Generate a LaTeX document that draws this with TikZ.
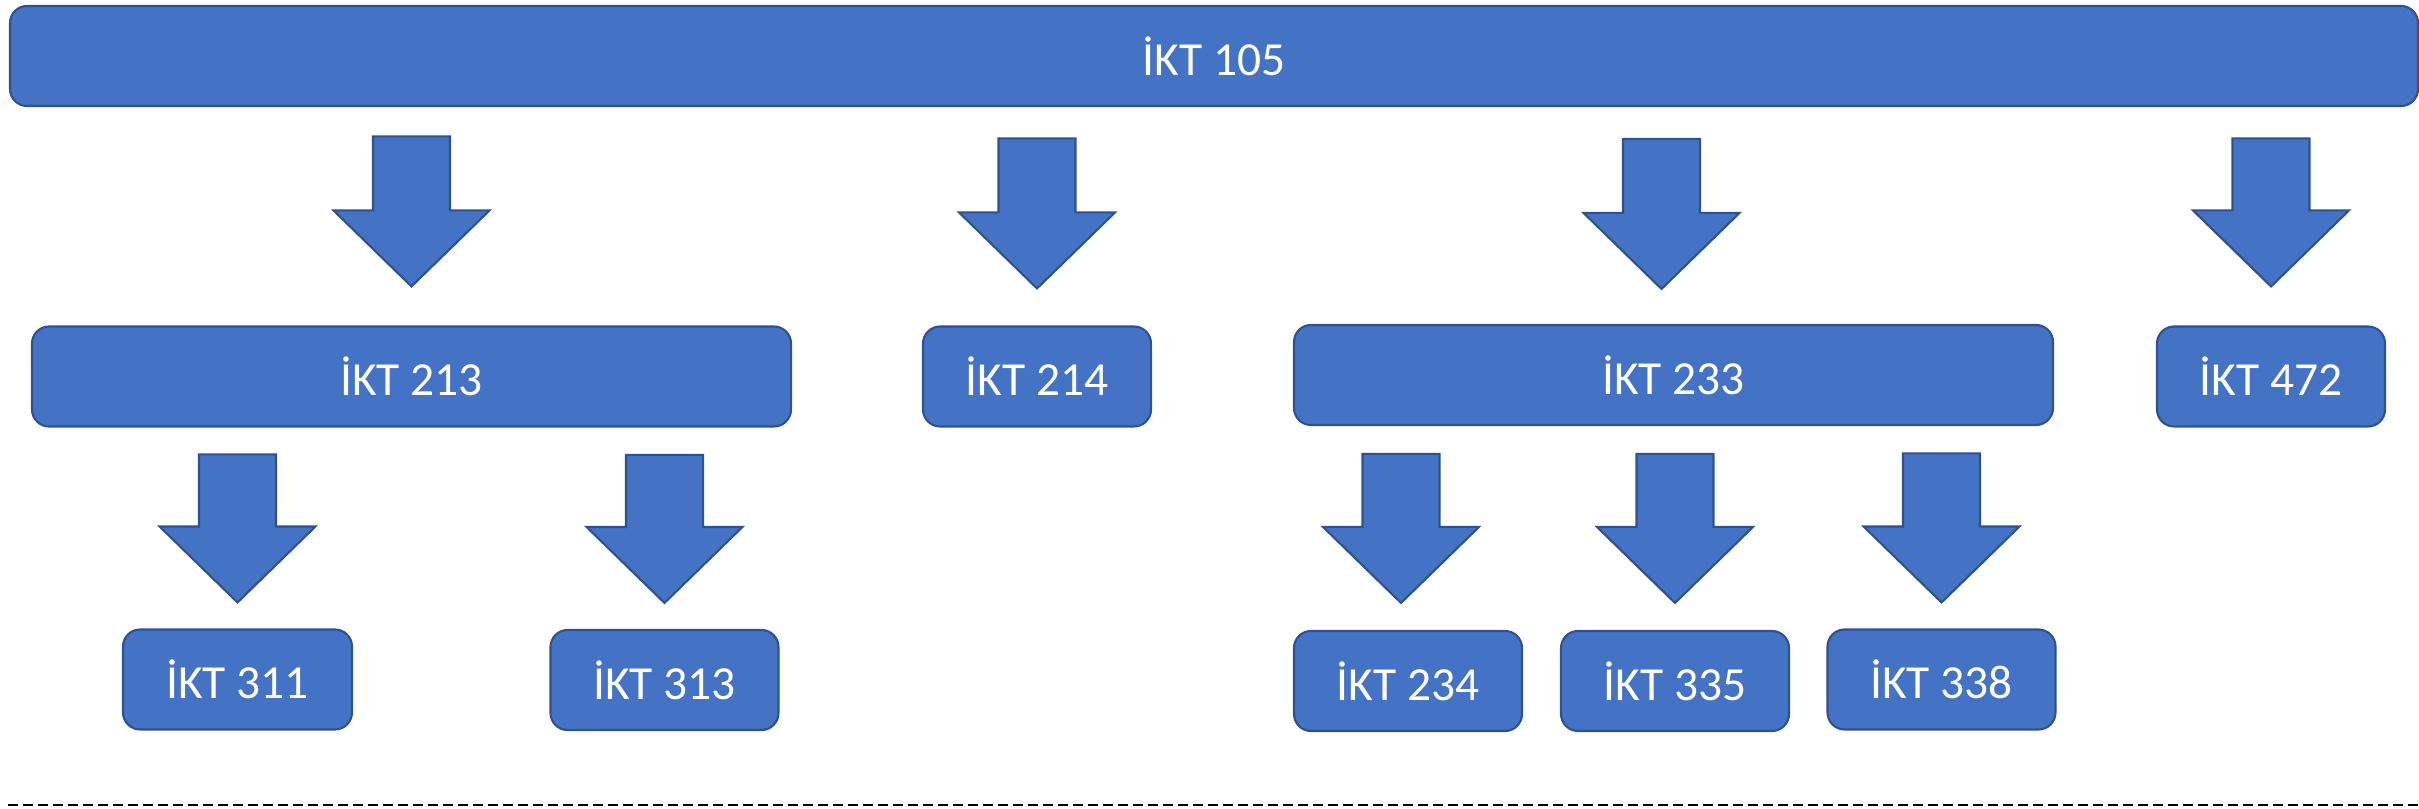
\documentclass[tikz,border=0pt]{standalone}
\usepackage{fontspec}
\setmainfont{Carlito}
\usepackage{tikz}

\definecolor{boxblue}{HTML}{4472C4}
\definecolor{boxedge}{HTML}{2F528F}

\tikzset{
	course/.style={draw=boxedge, fill=boxblue, line width=0.6pt, rounded corners=0.17cm, text=white, inner sep=0pt, minimum height=1cm, font=\fontsize{13.5}{16}\selectfont},
	pics/bigarrow/.style={code={
		\draw[draw=boxedge, fill=boxblue, line width=0.6pt] (0,0) -- (0.78,0.76) -- (0.385,0.76) -- (0.385,#1) -- (-0.385,#1) -- (-0.385,0.76) -- (-0.78,0.76) -- cycle;
	}}
}

\begin{document}
\begin{tikzpicture}[]
	\useasboundingbox (0,0) rectangle (24.19,8.08);
	%\draw[help lines] (0,0) grid (24,8);
	\node[course, minimum width=24.08cm] (ikt105) at (12.14,7.52) {İKT 105};

	\node[course, minimum width=7.59cm] (ikt213) at (4.115,4.315) {İKT 213};
	\node[course, minimum width=2.28cm] (ikt214) at (10.37,4.315) {İKT 214};
	\node[course, minimum width=7.59cm] (ikt233) at (16.735,4.33) {İKT 233};
	\node[course, minimum width=2.28cm] (ikt472) at (22.71,4.315) {İKT 472};

	\node[course, minimum width=2.29cm] (ikt311) at (2.375,1.285) {İKT 311};
	\node[course, minimum width=2.28cm] (ikt313) at (6.645,1.28) {İKT 313};
	\node[course, minimum width=2.28cm] (ikt234) at (14.08,1.27) {İKT 234};
	\node[course, minimum width=2.28cm] (ikt335) at (16.75,1.27) {İKT 335};
	\node[course, minimum width=2.28cm] (ikt338) at (19.415,1.285) {İKT 338};

	\pic at ([yshift=0.39cm]ikt213.north) {bigarrow=1.5};
	\pic at ([yshift=0.37cm]ikt214.north) {bigarrow=1.5};
	\pic at ([xshift=-0.12cm, yshift=0.35cm]ikt233.north) {bigarrow=1.5};
	\pic at ([yshift=0.39cm]ikt472.north) {bigarrow=1.48};

	\pic at ([yshift=0.26cm]ikt311.north) {bigarrow=1.48};
	\pic at ([yshift=0.26cm]ikt313.north) {bigarrow=1.48};
	\pic at ([xshift=-0.07cm, yshift=0.27cm]ikt234.north) {bigarrow=1.49};
	\pic at ([yshift=0.27cm]ikt335.north) {bigarrow=1.49};
	\pic at ([yshift=0.26cm]ikt338.north) {bigarrow=1.49};

	\coordinate (dashl) at (0.08,0.03);
	\coordinate (dashr) at (24.19,0.03);
	\draw[line width=0.85pt, dash pattern=on 0.1cm off 0.05cm] (dashl) -- (dashr);
\end{tikzpicture}
\end{document}
